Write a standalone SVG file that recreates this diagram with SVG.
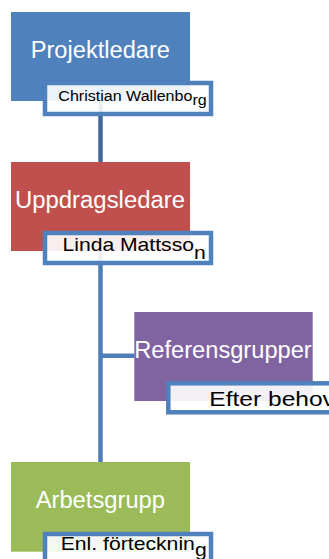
<svg xmlns="http://www.w3.org/2000/svg" width="329" height="559" viewBox="0 0 329 559">
<style>
.title{font-family:"Liberation Sans",Arial,sans-serif;font-size:23.5px;fill:#ffffff}
.lbl{font-family:"Liberation Sans",Arial,sans-serif;fill:#000000}
.lblbox{fill:#ffffff;fill-opacity:0.9;stroke:#4F81BD;stroke-width:4.5}
.conn{fill:none;stroke-width:4.5}
</style>
<rect width="329" height="559" fill="#ffffff"/>
<g id="connectors">
<path class="conn" stroke="#42689B" d="M100.5 101 V162"/>
<path class="conn" stroke="#4F7DB9" d="M100.5 251 V462 M100.5 355.8 H134.5"/>
</g>
<g id="projektledare">
<rect x="11" y="12" width="179" height="89" fill="#4F81BD"/>
<text class="title" x="30.7" y="57.6" textLength="139.3" lengthAdjust="spacingAndGlyphs">Projektledare</text>
<rect class="lblbox" x="45" y="83" width="166" height="31"/>
<text class="lbl" x="58.3" y="101.3" font-size="15.5" textLength="148.4" lengthAdjust="spacingAndGlyphs">Christian Wallenbo<tspan dy="4">rg</tspan></text>
</g>
<g id="uppdragsledare">
<rect x="11" y="162" width="179" height="89" fill="#C0504D"/>
<text class="title" x="15" y="207.5" textLength="170" lengthAdjust="spacingAndGlyphs">Uppdragsledare</text>
<rect class="lblbox" x="45" y="233" width="166" height="30"/>
<text class="lbl" x="62.5" y="251.2" font-size="18.5" textLength="143.2" lengthAdjust="spacingAndGlyphs">Linda Mattsso<tspan dy="8">n</tspan></text>
</g>
<g id="referensgrupper">
<rect x="134.3" y="312" width="178.4" height="89" fill="#8064A2"/>
<text class="title" x="134.3" y="358.3" textLength="177.4" lengthAdjust="spacingAndGlyphs">Referensgrupper</text>
<rect class="lblbox" x="168.3" y="383.3" width="166" height="29"/>
<text class="lbl" x="209.3" y="406" font-size="21" textLength="125.6" lengthAdjust="spacingAndGlyphs">Efter behov</text>
</g>
<g id="arbetsgrupp">
<rect x="11" y="462" width="179" height="89.7" fill="#9BBB59"/>
<text class="title" x="35.7" y="507.7" textLength="129.3" lengthAdjust="spacingAndGlyphs">Arbetsgrupp</text>
<rect class="lblbox" x="45" y="534" width="166" height="31"/>
<text class="lbl" x="60.7" y="549.5" font-size="18.5" textLength="146" lengthAdjust="spacingAndGlyphs">Enl. förtecknin<tspan dy="6">g</tspan></text>
</g>
</svg>
